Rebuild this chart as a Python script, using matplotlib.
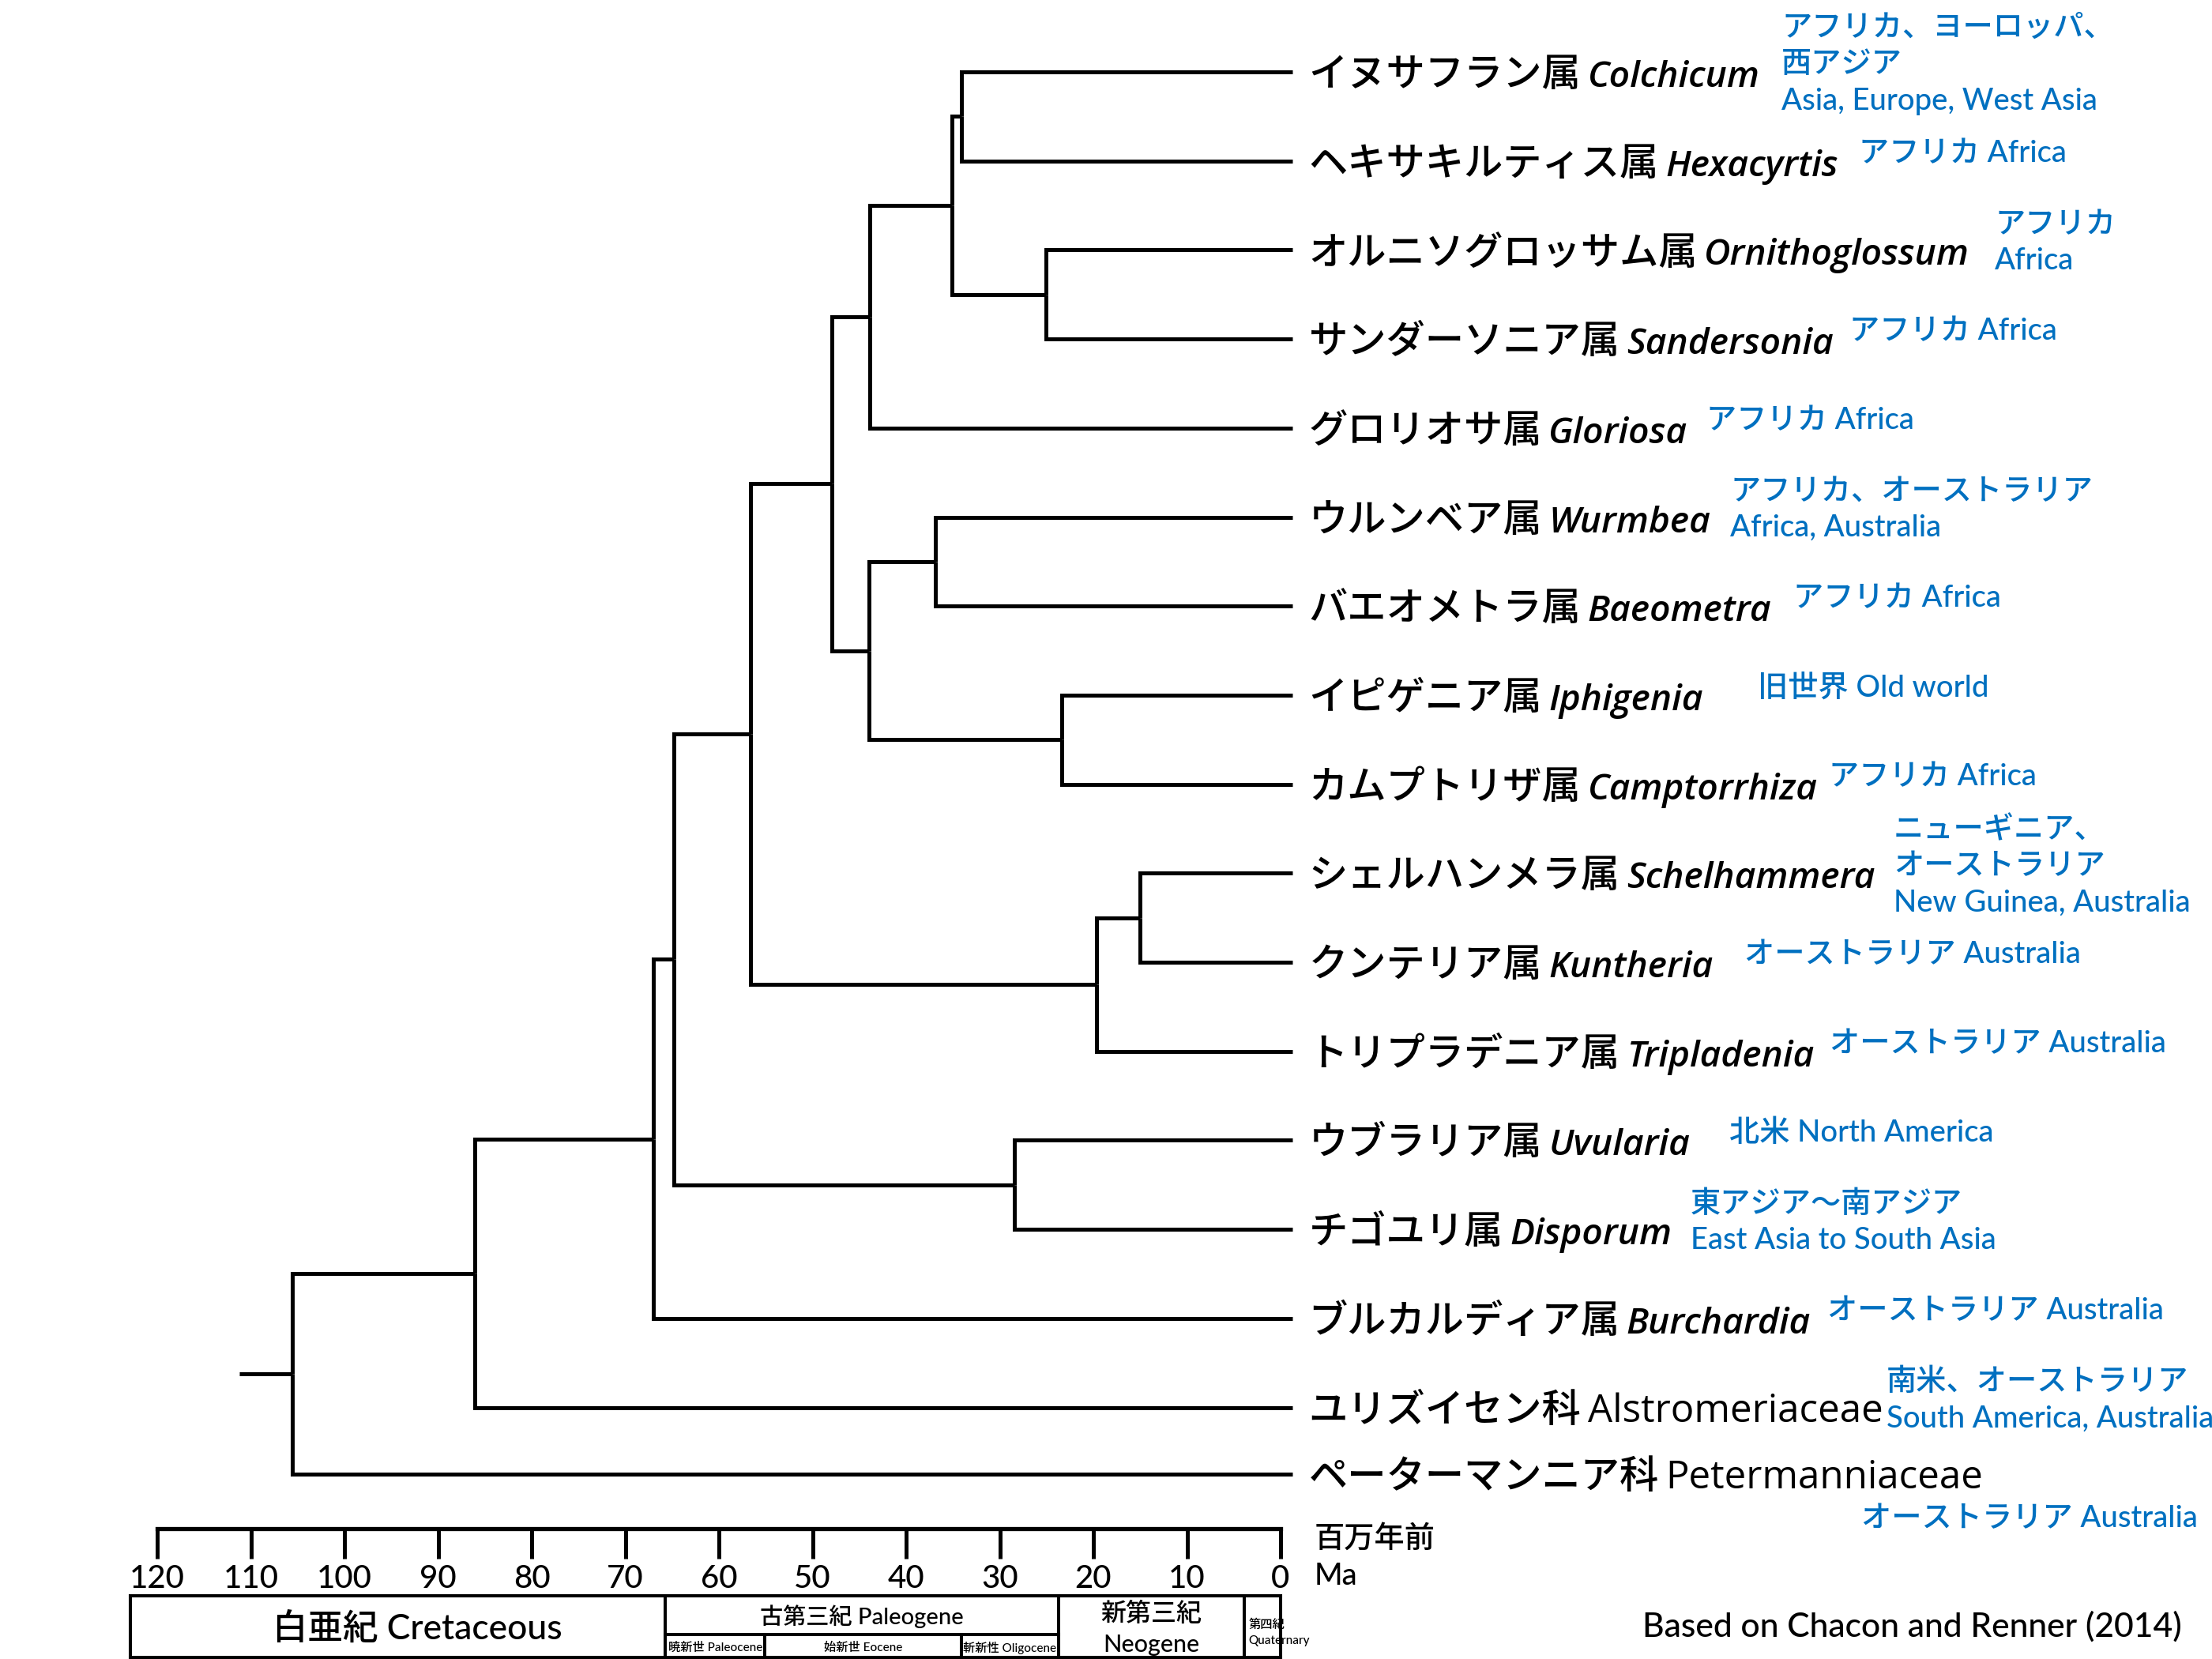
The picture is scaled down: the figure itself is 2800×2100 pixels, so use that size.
# Colchicaceae dated phylogeny (after Chacon and Renner 2014)

import matplotlib
matplotlib.use('Agg')
import matplotlib.pyplot as plt
from matplotlib.transforms import blended_transform_factory

plt.rcParams['font.family'] = ['Lato', 'Noto Sans CJK JP', 'DejaVu Sans']
plt.rcParams['font.weight'] = 'medium'
LABEL_FONT = ['Open Sans', 'Noto Sans CJK JP', 'DejaVu Sans']

# ---- data -------------------------------------------------------------
# tips, top to bottom
tip_ja = ['イヌサフラン属', 'ヘキサキルティス属', 'オルニソグロッサム属', 'サンダーソニア属',
          'グロリオサ属', 'ウルンベア属', 'バエオメトラ属', 'イピゲニア属', 'カムプトリザ属',
          'シェルハンメラ属', 'クンテリア属', 'トリプラデニア属', 'ウブラリア属', 'チゴユリ属',
          'ブルカルディア属', 'ユリズイセン科', 'ペーターマンニア科']
tip_latin = ['Colchicum', 'Hexacyrtis', 'Ornithoglossum', 'Sandersonia', 'Gloriosa',
             'Wurmbea', 'Baeometra', 'Iphigenia', 'Camptorrhiza', 'Schelhammera',
             'Kuntheria', 'Tripladenia', 'Uvularia', 'Disporum', 'Burchardia',
             'Alstromeriaceae', 'Petermanniaceae']
tip_italic = [True] * 15 + [False] * 2
tip_row = [0, 1, 2, 3, 4, 5, 6, 7, 8, 9, 10, 11, 12, 13, 14, 15, 15.75]
tip_region = [
    'アフリカ、ヨーロッパ、\n西アジア\nAsia, Europe, West Asia',
    'アフリカ Africa',
    'アフリカ\nAfrica',
    'アフリカ Africa',
    'アフリカ Africa',
    'アフリカ、オーストラリア\nAfrica, Australia',
    'アフリカ Africa',
    '旧世界 Old world',
    'アフリカ Africa',
    'ニューギニア、\nオーストラリア\nNew Guinea, Australia',
    'オーストラリア Australia',
    'オーストラリア Australia',
    '北米 North America',
    '東アジア〜南アジア\nEast Asia to South Asia',
    'オーストラリア Australia',
    '南米、オーストラリア\nSouth America, Australia',
    'オーストラリア Australia',
]

# internal nodes: age (Ma) and children (0-16 tips, 17+ earlier nodes)
node_age = [34.1, 25.1, 35.1, 43.9, 36.9, 23.4, 44.0, 47.9,
            15.0, 19.7, 56.6, 28.4, 64.8, 67.0, 86.1, 105.6]
node_kids = [(0, 1), (2, 3), (17, 18), (19, 4), (5, 6), (7, 8), (21, 22), (20, 23),
             (9, 10), (25, 11), (24, 26), (12, 13), (27, 28), (29, 14), (30, 15), (31, 16)]
root_age = 111.2
tip_age = -1.3

# time scale
ma_ticks = [120, 110, 100, 90, 80, 70, 60, 50, 40, 30, 20, 10, 0]
period_bounds = [122.9, 65.7, 23.7, 3.9, 0]
epoch_bounds = [65.7, 55.1, 34.1, 23.7]
epoch_names = ['暁新世 Paleocene', '始新世 Eocene', '斬新性 Oligocene']

# ---- layout -----------------------------------------------------------
W, H = 2800, 2100
X0_PX, PX_PER_MA = 1621, 11.85     # pixel of 0 Ma, pixels per Ma
ROW0_PX, ROW_PX = 91, 112.7        # pixel of first tip row, row spacing
BLUE = '#0070C0'
region_gap = [20, 19, 23, 15, 17, 18, 20, 50, 10, 17, 28, 14, 36, 17, 15, 3, 0]

fig = plt.figure(figsize=(28, 21), dpi=100)
lay = fig.add_axes([0, 0, 1, 1])
lay.set_xlim(0, W)
lay.set_ylim(H, 0)
lay.axis('off')

ax = fig.add_axes([0, 0, 1, 1])
ax.set_xlim(X0_PX / PX_PER_MA, (X0_PX - W) / PX_PER_MA)
ax.set_ylim((H - ROW0_PX) / ROW_PX, -ROW0_PX / ROW_PX)
ax.axis('off')

# ---- tree -------------------------------------------------------------
ys = list(tip_row)
ages = [tip_age] * len(tip_row)
for age, (a, b) in zip(node_age, node_kids):
    y = (ys[a] + ys[b]) / 2
    for c in (a, b):
        ax.plot([age, age, ages[c]], [y, ys[c], ys[c]], color='black', lw=3.6,
                solid_joinstyle='miter', solid_capstyle='butt')
    ys.append(y)
    ages.append(age)
ax.plot([root_age, node_age[-1]], [ys[-1], ys[-1]], color='black', lw=3.6,
        solid_capstyle='butt')

# ---- tip labels -------------------------------------------------------
for i in range(len(tip_row)):
    t_ja = ax.text(tip_age - 1.7, tip_row[i] + 0.16, tip_ja[i], fontsize=35.5,
                   family=LABEL_FONT, ha='left', va='baseline')
    if tip_italic[i]:
        t_lat = ax.annotate(tip_latin[i], xy=(1, 0), xycoords=t_ja,
                            xytext=(6, 0), textcoords='offset points',
                            fontsize=33.2, family=LABEL_FONT, style='italic',
                            weight='semibold', ha='left', va='bottom')
    else:
        t_lat = ax.annotate(tip_latin[i], xy=(1, 0), xycoords=t_ja,
                            xytext=(6, 0), textcoords='offset points',
                            fontsize=35.5, family=LABEL_FONT, ha='left', va='bottom')
    if i == len(tip_row) - 1:
        lay.text(2782, 1923, tip_region[i], color=BLUE, fontsize=27.5,
                 ha='right', va='center')
    else:
        ax.annotate(tip_region[i], xy=(1, tip_row[i] - 0.08), xycoords=(t_lat, 'data'),
                    xytext=(region_gap[i], 0), textcoords='offset points',
                    color=BLUE, fontsize=27.5, ha='left', va='center', linespacing=1.4)

# ---- time axis --------------------------------------------------------
ts = blended_transform_factory(ax.transData, lay.transData)
ax.plot([ma_ticks[0], ma_ticks[-1]], [1935, 1935], transform=ts, color='black',
        lw=3.8, solid_capstyle='projecting', clip_on=False)
for t in ma_ticks:
    ax.plot([t, t], [1935, 1973], transform=ts, color='black', lw=3.6,
            solid_capstyle='butt', clip_on=False)
    ax.text(t, 1998, str(t), transform=ts, fontsize=29, ha='center', va='center')

lay.text(1664, 1948, '百万年前', fontsize=27.5, ha='left', va='center')
lay.text(1664, 1996, 'Ma', fontsize=27.5, ha='left', va='center')

# period boxes
ax.plot([period_bounds[0], period_bounds[-1]], [2020, 2020], transform=ts,
        color='black', lw=2.9, clip_on=False)
ax.plot([period_bounds[0], period_bounds[-1]], [2098, 2098], transform=ts,
        color='black', lw=2.9, clip_on=False)
for b in period_bounds:
    ax.plot([b, b], [2020, 2100], transform=ts, color='black', lw=2.9, clip_on=False)
ax.plot([epoch_bounds[0], epoch_bounds[-1]], [2069, 2069], transform=ts,
        color='black', lw=2.9, clip_on=False)
for b in epoch_bounds:
    ax.plot([b, b], [2069, 2100], transform=ts, color='black', lw=2.9, clip_on=False)

lay.text(528, 2062, '白亜紀 Cretaceous', fontsize=32, ha='center', va='center')
ax.text((period_bounds[1] + period_bounds[2]) / 2, 2046, '古第三紀 Paleogene',
        transform=ts, fontsize=21, ha='center', va='center')
for name, lo, hi in zip(epoch_names, epoch_bounds[:-1], epoch_bounds[1:]):
    ax.text((lo + hi) / 2, 2086, name, transform=ts, fontsize=11,
            ha='center', va='center')
ax.text((period_bounds[2] + period_bounds[3]) / 2, 2043, '新第三紀',
        transform=ts, fontsize=23, ha='center', va='center')
ax.text((period_bounds[2] + period_bounds[3]) / 2, 2082, 'Neogene',
        transform=ts, fontsize=22, ha='center', va='center')
ax.text(period_bounds[3] - 0.5, 2057, '第四紀', transform=ts, fontsize=11,
        ha='left', va='center')
ax.text(period_bounds[3] - 0.5, 2077, 'Quaternary', transform=ts, fontsize=11,
        ha='left', va='center')

lay.text(2762, 2059, 'Based on Chacon and Renner (2014)', fontsize=30.7,
         ha='right', va='center')

plt.savefig('out.png', dpi=100)
